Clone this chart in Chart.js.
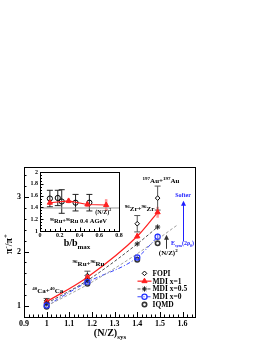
<!DOCTYPE html>
<html>
<head>
<meta charset="utf-8">
<script src="https://cdn.jsdelivr.net/npm/chart.js@4.4.1/dist/chart.umd.min.js"></script>
<style>
html, body { margin: 0; padding: 0; background: #fff; }
#wrap { position: relative; width: 264px; height: 341px; }
#main { position: absolute; left: 0; top: 0; }
#inset { position: absolute; left: 0; top: 160px; }
</style>
</head>
<body>
<div id="wrap">
  <canvas id="main" width="264" height="341"></canvas>
  <canvas id="inset" width="130" height="95"></canvas>
</div>
<script>
// main panel: pi-/pi+ vs (N/Z) of the system
var nzSys = [1.0, 1.18, 1.40, 1.49];
var fopi = [1.10, 1.56, 2.51, 2.98];
var fopiErr = [0.04, 0.08, 0.15, 0.22];
var mdiX1 = [1.08, 1.53, 2.28, 2.72];
var mdiX1Err = [0.03, 0.04, 0.05, 0.10];
var mdiX05 = [1.05, 1.47, 2.14, 2.45];
var mdiX0 = [1.01, 1.44, 1.89, 2.27];
var mdiX0Err = [0.03, 0.04, 0.05, 0.06];
var iqmd = [0.99, 1.41, 1.85, 2.15];
var nzSqX = [1.0, 1.2, 1.4, 1.575];
var nzSqY = [1.0, 1.44, 1.96, 2.48];
var xTicks = [0.9, 1.0, 1.1, 1.2, 1.3, 1.4, 1.5, 1.6];
var yTicks = [1, 2, 3];

// inset: Ru+Ru 0.4 AGeV vs b/bmax
var bFopi = [0.10, 0.18, 0.22, 0.36, 0.50];
var ratioFopi = [1.55, 1.56, 1.50, 1.48, 1.48];
var ratioFopiErr = [0.14, 0.13, 0.20, 0.14, 0.14];
var bMdi = [0.10, 0.29, 0.48, 0.67];
var ratioMdi = [1.48, 1.51, 1.45, 1.44];
var ratioMdiErr = [0.04, 0.04, 0.04, 0.10];
var insetNzSq = 1.39;
var insetXTicks = [0, 0.2, 0.4, 0.6, 0.8];
var insetYTicks = [1, 1.2, 1.4, 1.6, 1.8, 2];

var serif = "'Liberation Serif', 'Times New Roman', serif";

var pts = function(xs, ys) {
  return xs.map(function(x, i) { return {x: x, y: ys[i]}; });
};

var fmt = function(v) { return String(Math.round(v * 10) / 10); };

// text with sup/sub parts: [text, 0|1|-1]
var drawRich = function(ctx, parts, x, y, size, color, align) {
  ctx.save();
  ctx.fillStyle = color || '#000';
  ctx.textBaseline = 'alphabetic';
  var small = Math.round(size * 0.65);
  var w = 0;
  parts.forEach(function(p) {
    ctx.font = 'bold ' + (p[1] ? small : size) + 'px ' + serif;
    w += ctx.measureText(p[0]).width;
  });
  var cx = align === 'left' ? x : x - w / 2;
  parts.forEach(function(p) {
    ctx.font = 'bold ' + (p[1] ? small : size) + 'px ' + serif;
    var dy = p[1] === 1 ? -size * 0.4 : (p[1] === -1 ? size * 0.3 : 0);
    ctx.textAlign = 'left';
    ctx.fillText(p[0], cx, y + dy);
    cx += ctx.measureText(p[0]).width;
  });
  ctx.restore();
};

var drawMarker = function(ctx, ds, x, y) {
  ctx.save();
  ctx.lineWidth = ds.pointBorderWidth || 1;
  ctx.strokeStyle = ds.pointBorderColor;
  ctx.fillStyle = ds.pointBackgroundColor;
  ctx.setLineDash([]);
  Chart.helpers.drawPoint(ctx, {pointStyle: ds.pointStyle, radius: ds.pointRadius, rotation: 0, borderWidth: ds.pointBorderWidth}, x, y);
  ctx.restore();
};

var errorBars = {
  id: 'errorBars',
  beforeDatasetsDraw: function(chart) {
    var ctx = chart.ctx;
    var ys = chart.scales.y;
    chart.data.datasets.forEach(function(ds, di) {
      if (!ds.errors) return;
      var meta = chart.getDatasetMeta(di);
      ctx.save();
      ctx.strokeStyle = ds.errorColor;
      ctx.lineWidth = ds.errorWidth || 1;
      meta.data.forEach(function(p, i) {
        var v = ds.data[i].y;
        var t = ys.getPixelForValue(v + ds.errors[i]);
        var b = ys.getPixelForValue(v - ds.errors[i]);
        ctx.beginPath();
        ctx.moveTo(p.x, t); ctx.lineTo(p.x, b);
        if (ds.errorCap) {
          ctx.moveTo(p.x - ds.errorCap, t); ctx.lineTo(p.x + ds.errorCap, t);
          ctx.moveTo(p.x - ds.errorCap, b); ctx.lineTo(p.x + ds.errorCap, b);
        }
        ctx.stroke();
      });
      ctx.restore();
    });
  }
};

var frameAndTicks = {
  id: 'frameAndTicks',
  afterDraw: function(chart, args, opts) {
    var ctx = chart.ctx, a = chart.chartArea;
    var xs = chart.scales.x, ys = chart.scales.y;
    ctx.save();
    ctx.strokeStyle = '#000';
    ctx.lineWidth = 1;
    ctx.beginPath();
    var v, px, n;
    for (n = 0, v = xs.min; v <= xs.max + 1e-9; n++, v = xs.min + n * opts.xMinor) {
      px = Math.round(xs.getPixelForValue(v)) + 0.5;
      var major = Math.abs(v / opts.xMajor - Math.round(v / opts.xMajor)) < 1e-6;
      ctx.moveTo(px, a.bottom);
      ctx.lineTo(px, a.bottom - (major ? opts.major : opts.minor));
    }
    for (n = 0, v = opts.yStart; v <= ys.max + 1e-9; n++, v = opts.yStart + n * opts.yMinor) {
      if (v < ys.min - 1e-9) continue;
      px = Math.round(ys.getPixelForValue(v)) + 0.5;
      var majorY = Math.abs(v / opts.yMajor - Math.round(v / opts.yMajor)) < 1e-6;
      ctx.moveTo(a.left, px);
      ctx.lineTo(a.left + (majorY ? opts.major : opts.minor), px);
    }
    ctx.stroke();
    ctx.strokeRect(Math.round(a.left) + 0.5, Math.round(a.top) + 0.5, Math.round(a.right - a.left), Math.round(a.bottom - a.top));
    ctx.restore();
  }
};

var mainNotes = {
  id: 'mainNotes',
  afterDraw: function(chart) {
    var ctx = chart.ctx, xs = chart.scales.x, ys = chart.scales.y;
    var X = function(v) { return xs.getPixelForValue(v); };
    var Y = function(v) { return ys.getPixelForValue(v); };

    drawRich(ctx, [['40', 1], ['Ca+', 0], ['40', 1], ['Ca', 0]], X(1.005), Y(1.24), 7);
    drawRich(ctx, [['96', 1], ['Ru+', 0], ['96', 1], ['Ru', 0]], X(1.185), Y(1.74), 7);
    drawRich(ctx, [['96', 1], ['Zr+', 0], ['96', 1], ['Zr', 0]], X(1.41), Y(2.75), 7);
    drawRich(ctx, [['197', 1], ['Au+', 0], ['197', 1], ['Au', 0]], X(1.505), Y(3.26), 7);

    // arrows
    var arrow = function(x, y0, y1, color) {
      ctx.save();
      ctx.strokeStyle = color; ctx.fillStyle = color; ctx.lineWidth = 1;
      ctx.beginPath(); ctx.moveTo(x, y0); ctx.lineTo(x, y1 + 3); ctx.stroke();
      ctx.beginPath(); ctx.moveTo(x, y1); ctx.lineTo(x - 2.5, y1 + 5); ctx.lineTo(x + 2.5, y1 + 5); ctx.closePath(); ctx.fill();
      ctx.restore();
    };
    arrow(Math.round(X(1.602)) + 0.5, Y(2.19), Y(2.93), '#2020ff');
    drawRich(ctx, [['Softer', 0]], X(1.602), Y(3.0), 6, '#2020ff');
    drawRich(ctx, [['E', 0], ['sym', -1], ['(2\u03c1', 0], ['0', -1], [')', 0]], X(1.60), Y(2.12), 6, '#2020ff');
    arrow(Math.round(X(1.527)) + 0.5, Y(2.05), Y(2.31), '#333');
    drawRich(ctx, [['(N/Z)', 0], ['2', 1]], X(1.537), Y(1.94), 7);

    // legend
    var order = chart.data.datasets.filter(function(d) { return d.legendRank; })
      .sort(function(p, q) { return p.legendRank - q.legendRank; });
    var lx = X(1.432), ly = Y(1.60), step = 7.8;
    order.forEach(function(ds, i) {
      var y = ly + i * step;
      if (ds.showLine !== false) {
        ctx.save();
        ctx.strokeStyle = ds.borderColor; ctx.lineWidth = ds.borderWidth;
        ctx.setLineDash(ds.borderDash || []);
        ctx.beginPath(); ctx.moveTo(lx - 7, y); ctx.lineTo(lx + 7, y); ctx.stroke();
        ctx.restore();
      }
      drawMarker(ctx, ds, lx, y);
      drawRich(ctx, [[ds.label, 0]], lx + 8, y + 2.5, 7.5, '#000', 'left');
    });

    // axis titles
    drawRich(ctx, [['(N/Z)', 0], ['sys', -1]], 110, 336, 10);
    ctx.save();
    ctx.translate(12, 244);
    ctx.rotate(-Math.PI / 2);
    drawRich(ctx, [['\u03c0', 0], ['-', 1], ['/\u03c0', 0], ['+', 1]], 0, 0, 10);
    ctx.restore();
  }
};

var tickFont = {family: serif, weight: 'bold', size: 8};

new Chart(document.getElementById('main').getContext('2d'), {
  type: 'line',
  data: {
    datasets: [
      {label: '(N/Z)^2', data: pts(nzSqX, nzSqY), borderColor: '#888', borderWidth: 0.8, borderDash: [3, 2], pointRadius: 0, tension: 0.4, cubicInterpolationMode: 'monotone'},
      {label: 'MDI x=0', data: pts(nzSys, mdiX0), legendRank: 4, borderColor: '#2030ff', borderWidth: 0.9, borderDash: [4, 2, 1, 2],
        pointStyle: 'circle', pointRadius: 2.6, pointBorderColor: '#2030ff', pointBackgroundColor: 'rgba(0,0,0,0)', pointBorderWidth: 1.2,
        tension: 0.3, cubicInterpolationMode: 'monotone', errors: mdiX0Err, errorColor: 'rgba(60,60,255,0.6)', errorWidth: 1.5},
      {label: 'MDI x=0.5', data: pts(nzSys, mdiX05), legendRank: 3, borderColor: '#222', borderWidth: 0.8, borderDash: [3, 2],
        pointStyle: 'star', pointRadius: 2.6, pointBorderColor: '#222', pointBackgroundColor: 'rgba(0,0,0,0)', pointBorderWidth: 1,
        tension: 0.3, cubicInterpolationMode: 'monotone'},
      {label: 'MDI x=1', data: pts(nzSys, mdiX1), legendRank: 2, borderColor: '#ff2020', borderWidth: 1.2,
        pointStyle: 'triangle', pointRadius: 3, pointBorderColor: '#ff2020', pointBackgroundColor: '#ff2020', pointBorderWidth: 1,
        tension: 0.3, cubicInterpolationMode: 'monotone', errors: mdiX1Err, errorColor: 'rgba(255,60,60,0.5)', errorWidth: 2.5},
      {label: 'IQMD', data: pts(nzSys, iqmd), legendRank: 5, showLine: false,
        pointStyle: 'circle', pointRadius: 2.2, pointBorderColor: '#333', pointBackgroundColor: 'rgba(0,0,0,0)', pointBorderWidth: 1.6},
      {label: 'FOPI', data: pts(nzSys, fopi), legendRank: 1, showLine: false,
        pointStyle: 'rectRot', pointRadius: 2.3, pointBorderColor: '#000', pointBackgroundColor: '#fff', pointBorderWidth: 1,
        errors: fopiErr, errorColor: '#555', errorWidth: 1, errorCap: 3}
    ]
  },
  options: {
    responsive: false,
    animation: false,
    layout: {padding: {top: 167, right: 69, left: 0, bottom: 0}},
    plugins: {legend: {display: false}, tooltip: {enabled: false}, frameAndTicks: {xMajor: 0.1, xMinor: 0.02, yStart: 0.8, yMajor: 1, yMinor: 0.2, major: 5, minor: 2.5}},
    scales: {
      x: {
        type: 'linear', min: 0.9, max: 1.655,
        afterFit: function(s) { s.height = 24; },
        afterBuildTicks: function(s) { s.ticks = xTicks.map(function(v) { return {value: v}; }); },
        ticks: {font: tickFont, color: '#000', padding: 2, maxRotation: 0, autoSkip: false, callback: fmt},
        grid: {display: false, drawTicks: false}, border: {display: false}
      },
      y: {
        type: 'linear', min: 0.8, max: 3.55,
        afterFit: function(s) { s.width = 24; },
        afterBuildTicks: function(s) { s.ticks = yTicks.map(function(v) { return {value: v}; }); },
        ticks: {font: tickFont, color: '#000', padding: 3, callback: fmt},
        grid: {display: false, drawTicks: false}, border: {display: false}
      }
    }
  },
  plugins: [errorBars, frameAndTicks, mainNotes]
});

var insetNotes = {
  id: 'insetNotes',
  afterDraw: function(chart) {
    var ctx = chart.ctx, xs = chart.scales.x, ys = chart.scales.y;
    drawRich(ctx, [['(N/Z)', 0], ['2', 1]], xs.getPixelForValue(0.64), ys.getPixelForValue(1.29), 6);
    drawRich(ctx, [['96', 1], ['Ru+', 0], ['96', 1], ['Ru 0.4 AGeV', 0]], xs.getPixelForValue(0.39), ys.getPixelForValue(1.13), 6.5);
    drawRich(ctx, [['b/b', 0], ['max', -1]], 77, 86, 10);
  }
};

var insetFont = {family: serif, weight: 'bold', size: 6};

new Chart(document.getElementById('inset').getContext('2d'), {
  type: 'line',
  data: {
    datasets: [
      {label: 'nz2', data: [{x: 0, y: insetNzSq}, {x: 0.8, y: insetNzSq}], borderColor: '#999', borderWidth: 1, pointRadius: 0},
      {label: 'MDI', data: pts(bMdi, ratioMdi), borderColor: '#ff2020', borderWidth: 1.1,
        pointStyle: 'triangle', pointRadius: 3, pointBorderColor: '#ff2020', pointBackgroundColor: '#ff2020', pointBorderWidth: 1,
        errors: ratioMdiErr, errorColor: 'rgba(255,60,60,0.55)', errorWidth: 2.5},
      {label: 'FOPI', data: pts(bFopi, ratioFopi), showLine: false,
        pointStyle: 'circle', pointRadius: 2.6, pointBorderColor: '#000', pointBackgroundColor: 'rgba(0,0,0,0)', pointBorderWidth: 1,
        errors: ratioFopiErr, errorColor: '#222', errorWidth: 1, errorCap: 3}
    ]
  },
  options: {
    responsive: false,
    animation: false,
    layout: {padding: {top: 12, right: 11, left: 0, bottom: 0}},
    plugins: {legend: {display: false}, tooltip: {enabled: false}, frameAndTicks: {xMajor: 0.2, xMinor: 0.05, yStart: 1, yMajor: 0.2, yMinor: 0.05, major: 3.5, minor: 2}},
    scales: {
      x: {
        type: 'linear', min: 0, max: 0.8,
        afterFit: function(s) { s.height = 24; },
        afterBuildTicks: function(s) { s.ticks = insetXTicks.map(function(v) { return {value: v}; }); },
        ticks: {font: insetFont, color: '#000', padding: 1, maxRotation: 0, autoSkip: false, callback: fmt},
        grid: {display: false, drawTicks: false}, border: {display: false}
      },
      y: {
        type: 'linear', min: 1, max: 2,
        afterFit: function(s) { s.width = 40; },
        afterBuildTicks: function(s) { s.ticks = insetYTicks.map(function(v) { return {value: v}; }); },
        ticks: {font: insetFont, color: '#000', padding: 2, autoSkip: false, callback: fmt},
        grid: {display: false, drawTicks: false}, border: {display: false}
      }
    }
  },
  plugins: [errorBars, frameAndTicks, insetNotes]
});
</script>
</body>
</html>
